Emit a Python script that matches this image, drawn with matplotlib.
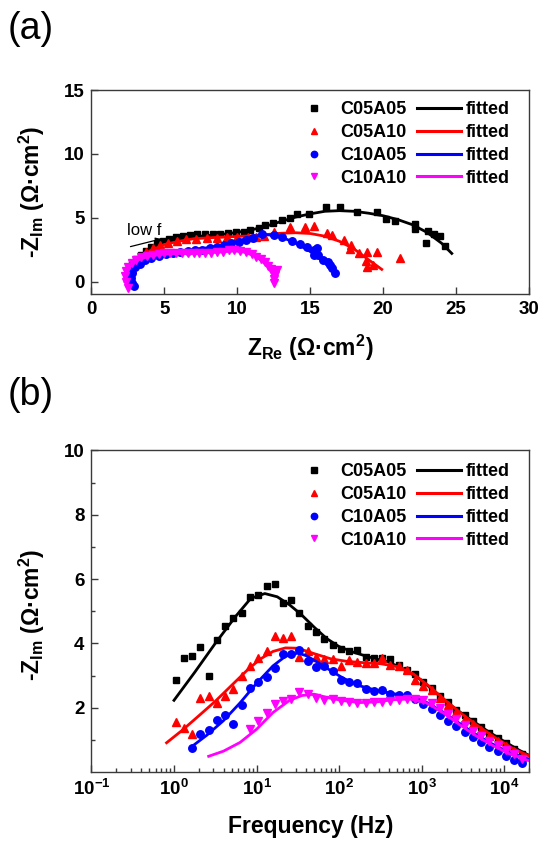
import matplotlib
matplotlib.use("Agg")
import matplotlib.pyplot as plt
from matplotlib.lines import Line2D

plt.rcParams["font.family"] = ["Liberation Sans", "DejaVu Sans"]
plt.rcParams["font.weight"] = "bold"
plt.rcParams["mathtext.fontset"] = "custom"
plt.rcParams["mathtext.rm"] = "Liberation Sans:bold"
plt.rcParams["mathtext.bf"] = "Liberation Sans:bold"
plt.rcParams["mathtext.it"] = "Liberation Sans:bold:italic"

names = ["C05A05", "C05A10", "C10A05", "C10A10"]
colors = ["#000000", "#ff0000", "#0000ff", "#ff00ff"]
markers = ["s", "^", "o", "v"]
msizes = [4.8, 5.8, 5.4, 5.8]

# ---------------- (a) Nyquist data ----------------
zre_c05a05 = [2.45, 2.5, 2.58, 2.8, 3.08, 3.38, 3.73, 4.08, 4.47, 4.88, 5.35, 5.8, 6.27, 6.73,
              7.24, 7.77, 8.3, 8.8, 9.39, 9.9, 10.43, 10.9, 11.47, 11.93, 12.46, 13.08, 13.6,
              14.1, 14.9, 16.1, 17.05, 18.2, 19.55, 20.16, 20.84, 22.16, 22.16, 23.07, 22.95,
              23.5, 23.9, 24.25]
zim_c05a05 = [0.35, 0.75, 1.12, 1.43, 1.74, 2.08, 2.42, 2.73, 2.99, 3.2, 3.33, 3.45, 3.56, 3.64,
              3.69, 3.71, 3.71, 3.71, 3.77, 3.84, 3.9, 4.03, 4.23, 4.42, 4.6, 4.8, 5.0,
              5.32, 5.25, 5.84, 5.8, 5.45, 5.42, 4.92, 4.77, 4.5, 4.12, 3.94, 3.03,
              3.72, 3.57, 2.79]

zre_c05a10 = [2.55, 2.75, 3.0, 3.35, 3.75, 4.2, 4.7, 5.25, 5.85, 6.5, 7.2, 7.9, 8.6, 9.3, 10.0,
              10.7, 11.3, 11.8, 12.5, 13.64, 14.66, 15.23, 16.14, 16.48, 17.32, 17.77, 17.73,
              18.36, 18.86, 19.6, 18.8, 18.86, 19.3, 21.14]
zim_c05a10 = [0.5, 1.0, 1.45, 1.9, 2.3, 2.6, 2.85, 3.05, 3.2, 3.3, 3.35, 3.4, 3.42, 3.45, 3.48,
              3.5, 3.52, 3.58, 3.9, 4.24, 4.24, 4.33, 3.81, 3.68, 3.24, 2.85, 2.51,
              2.25, 2.33, 2.33, 1.64, 1.17, 1.3, 1.83]

zre_c10a05 = [2.9, 2.75, 2.7, 2.8, 3.0, 3.3, 3.7, 4.1, 4.6, 5.1, 5.6, 6.1, 6.6, 7.1, 7.6, 8.1,
              8.6, 9.1, 9.6, 10.1, 10.6, 11.1, 11.7, 12.5, 13.07, 13.75, 14.3, 14.77, 15.23,
              15.45, 15.23, 15.5, 15.9, 16.25, 16.36, 16.48, 16.7]
zim_c10a05 = [-0.35, -0.1, 0.3, 0.7, 1.1, 1.4, 1.65, 1.85, 2.0, 2.15, 2.25, 2.35, 2.4, 2.45, 2.5,
              2.6, 2.7, 2.85, 3.0, 3.1, 3.25, 3.4, 3.75, 3.64, 3.5, 3.19, 2.9, 2.73, 2.46,
              2.6, 2.07, 2.07, 1.67, 1.54, 1.28, 1.02, 0.7]

zre_c10a10 = [2.5, 2.35, 2.3, 2.35, 2.5, 2.75, 3.05, 3.4, 3.8, 4.2, 4.6, 5.0, 5.4, 5.8, 6.2, 6.6,
              7.0, 7.4, 7.8, 8.2, 8.6, 9.0, 9.4, 9.8, 10.2, 10.6, 11.0, 11.3, 11.6, 11.9, 12.1,
              12.3, 12.5, 12.7, 12.6, 12.5, 12.5]
zim_c10a10 = [-0.5, 0.0, 0.4, 0.8, 1.15, 1.45, 1.7, 1.9, 2.0, 2.1, 2.15, 2.2, 2.2, 2.2, 2.2, 2.2,
              2.2, 2.2, 2.2, 2.25, 2.3, 2.35, 2.45, 2.5, 2.4, 2.3, 2.15, 1.95, 1.75, 1.5, 1.25,
              1.0, 0.75, 0.9, 0.5, 0.2, -0.1]

fit_zre_c05a05 = [2.4, 2.5, 2.7, 3.0, 3.5, 4.0, 5.0, 6.0, 7.0, 8.0, 9.0, 10.0, 11.0, 12.0, 13.0,
                  14.0, 15.0, 16.0, 17.0, 18.0, 19.0, 20.0, 21.0, 22.0, 23.0, 24.0, 24.7]
fit_zim_c05a05 = [0.0, 0.5, 1.0, 1.5, 2.1, 2.5, 3.0, 3.3, 3.5, 3.6, 3.7, 3.85, 4.05, 4.35, 4.7,
                  5.05, 5.3, 5.5, 5.55, 5.5, 5.35, 5.15, 4.85, 4.45, 3.85, 3.0, 2.2]

fit_zre_c05a10 = [2.4, 2.5, 2.8, 3.3, 4.0, 5.0, 6.0, 7.0, 8.0, 9.0, 10.0, 11.0, 12.0, 13.0, 14.0,
                  15.0, 16.0, 17.0, 18.0, 19.0, 19.9]
fit_zim_c05a10 = [0.0, 0.5, 1.2, 1.8, 2.4, 2.9, 3.15, 3.35, 3.42, 3.48, 3.53, 3.58, 3.68, 3.78,
                  3.82, 3.76, 3.55, 3.15, 2.55, 1.7, 0.95]

fit_zre_c10a05 = [2.55, 2.6, 2.8, 3.2, 4.0, 5.0, 6.0, 7.0, 8.0, 9.0, 10.0, 11.0, 11.8, 12.5, 13.2,
                  14.0, 14.8, 15.5, 16.1, 16.7]
fit_zim_c10a05 = [0.0, 0.5, 1.0, 1.45, 1.85, 2.15, 2.35, 2.5, 2.65, 2.85, 3.15, 3.5, 3.68, 3.62,
                  3.4, 3.0, 2.5, 1.95, 1.4, 0.75]

fit_zre_c10a10 = [2.3, 2.35, 2.5, 2.8, 3.3, 4.0, 5.0, 6.0, 7.0, 8.0, 9.0, 9.8, 10.5, 11.2, 11.7,
                  12.1, 12.4, 12.55]
fit_zim_c10a10 = [0.0, 0.5, 1.0, 1.4, 1.75, 2.0, 2.15, 2.2, 2.2, 2.25, 2.32, 2.4, 2.3, 2.0, 1.6,
                  1.15, 0.6, 0.1]

# ---------------- (b) Bode (-Zim vs frequency) data ----------------
freq = [1.05, 1.32, 1.66, 2.09, 2.63, 3.31, 4.17, 5.25, 6.61, 8.32, 10.5, 13.2, 16.6, 20.9,
        26.3, 33.1, 41.7, 52.5, 66.1, 83.2, 105, 132, 166, 209, 263, 331, 417, 525, 661, 832,
        1050, 1320, 1660, 2090, 2630, 3310, 4170, 5250, 6610, 8320, 10500, 13200, 16600]

zim_f_c05a05 = [2.85, 3.55, 3.6, 3.9, 3.0, 4.1, 4.55, 4.8, 4.95, 5.45, 5.5, 5.8, 5.85, 5.27,
                5.35, 4.95, 4.55, 4.35, 4.15, 3.95, 3.83, 3.75, 3.8, 3.58, 3.56, 3.56, 3.5,
                3.32, 3.16, 3.04, 2.8, 2.62, 2.37, 2.17, 1.94, 1.76, 1.59, 1.4, 1.22, 1.06,
                0.9, 0.73, 0.55]
zim_f_c05a10 = [1.55, 1.38, 1.19, 2.3, 2.35, 2.15, 2.35, 2.58, 3.0, 3.3, 3.54, 3.76, 4.24, 4.16,
                4.22, 3.58, 3.76, 3.58, 3.52, 3.52, 3.3, 3.47, 3.43, 3.39, 3.39, 3.56, 3.33,
                3.3, 3.16, 2.87, 2.69, 2.56, 2.31, 2.1, 1.87, 1.66, 1.48, 1.3, 1.12, 0.96,
                0.8, 0.64, 0.47]
zim_f_c10a05 = [0.76, 1.19, 1.32, 1.63, 1.78, 1.5, 2.07, 2.62, 2.8, 2.95, 3.24, 3.66, 3.66,
                3.78, 3.45, 3.26, 3.3, 3.13, 2.87, 2.8, 2.77, 2.58, 2.51, 2.54, 2.44, 2.4,
                2.38, 2.28, 2.12, 1.97, 1.76, 1.59, 1.42, 1.24, 1.09, 0.93, 0.78, 0.64, 0.51,
                0.38, 0.28]
zim_f_c10a10 = [1.34, 1.6, 1.83, 2.12, 2.2, 2.27, 2.48, 2.43, 2.3, 2.24, 2.26, 2.22, 2.18,
                2.16, 2.15, 2.17, 2.18, 2.22, 2.25, 2.27, 2.28, 2.24, 2.14, 2.0, 1.82, 1.64,
                1.46, 1.29, 1.12, 0.97, 0.83, 0.69, 0.55, 0.42]

fit_f_c05a05 = [1.0, 1.78, 3.16, 5.62, 8.51, 12.6, 17.8, 25.1, 34.7, 50.1, 70.8, 100, 151, 251,
                398, 631, 1000, 1585, 2512, 3981, 6310, 10000, 15136, 19950]
fit_zim_f_c05a05 = [2.23, 3.1, 4.0, 4.85, 5.4, 5.55, 5.45, 5.2, 4.9, 4.5, 4.15, 3.9, 3.72, 3.55,
                    3.42, 3.18, 2.85, 2.4, 1.98, 1.62, 1.27, 0.95, 0.68, 0.52]

fit_f_c05a10 = [0.813, 1.26, 2.0, 3.16, 5.01, 7.94, 11.2, 15.8, 22.4, 31.6, 50.1, 79.4, 126,
                200, 316, 501, 794, 1259, 1995, 3162, 5012, 7943, 12589, 19950]
fit_zim_f_c05a10 = [0.91, 1.3, 1.75, 2.2, 2.7, 3.2, 3.52, 3.75, 3.86, 3.85, 3.68, 3.52, 3.44,
                    3.4, 3.37, 3.28, 3.05, 2.65, 2.2, 1.78, 1.4, 1.05, 0.74, 0.5]

fit_f_c10a05 = [1.62, 2.51, 3.98, 6.31, 10, 15.8, 22.4, 31.6, 39.8, 56.2, 79.4, 112, 178, 282,
                447, 708, 1122, 1778, 2818, 4467, 7079, 11220, 19950]
fit_zim_f_c10a05 = [0.78, 1.15, 1.6, 2.15, 2.76, 3.3, 3.6, 3.7, 3.62, 3.4, 3.15, 2.92, 2.68,
                    2.54, 2.44, 2.35, 2.18, 1.88, 1.53, 1.18, 0.88, 0.62, 0.4]

fit_f_c10a10 = [2.63, 3.98, 6.31, 10, 15.8, 25.1, 35.5, 50.1, 70.8, 112, 178, 282, 447, 708,
                1122, 1778, 2818, 4467, 7079, 11220, 19950]
fit_zim_f_c10a10 = [0.49, 0.65, 0.92, 1.33, 1.85, 2.23, 2.38, 2.42, 2.32, 2.22, 2.16, 2.18, 2.25,
                    2.27, 2.16, 1.86, 1.49, 1.14, 0.84, 0.58, 0.35]

nyq_pts = [(zre_c05a05, zim_c05a05), (zre_c05a10, zim_c05a10),
           (zre_c10a05, zim_c10a05), (zre_c10a10, zim_c10a10)]
nyq_fit = [(fit_zre_c05a05, fit_zim_c05a05), (fit_zre_c05a10, fit_zim_c05a10),
           (fit_zre_c10a05, fit_zim_c10a05), (fit_zre_c10a10, fit_zim_c10a10)]
bode_pts = [zim_f_c05a05, zim_f_c05a10, zim_f_c10a05, zim_f_c10a10]
bode_fit = [(fit_f_c05a05, fit_zim_f_c05a05), (fit_f_c05a10, fit_zim_f_c05a10),
            (fit_f_c10a05, fit_zim_f_c10a05), (fit_f_c10a10, fit_zim_f_c10a10)]

FRAME = "#3a3a3a"


def style(ax):
    for s in ax.spines.values():
        s.set_linewidth(1.0)
        s.set_color(FRAME)
    ax.tick_params(which="both", direction="in", top=False, right=False,
                   color=FRAME, width=1.0, labelsize=13.5, pad=5)
    ax.tick_params(which="major", length=5)
    ax.tick_params(which="minor", length=3)


def add_legend(ax, y_anchor):
    hs = [Line2D([], [], ls="none", marker=m, color=c, mec=c, ms=ms * 0.85)
          for m, c, ms in zip(markers, colors, msizes)]
    hl = [Line2D([], [], color=c, lw=2.2) for c in colors]
    ax.legend(hs + hl, names + ["fitted"] * 4, ncol=2, loc="upper right",
              bbox_to_anchor=(0.955, y_anchor), frameon=False, fontsize=13,
              handlelength=2.44, handletextpad=0.24, columnspacing=0.6,
              labelspacing=0.32, borderpad=0, borderaxespad=0)


fig = plt.figure(figsize=(5.41, 8.42), dpi=100)
axA = fig.add_axes([0.169, 0.6505, 0.809, 0.2426])
axB = fig.add_axes([0.169, 0.0831, 0.809, 0.3819])

# (a) Nyquist plot
for (x, y), (fx, fy), c, m, ms in zip(nyq_pts, nyq_fit, colors, markers, msizes):
    axA.plot(x, y, ls="none", marker=m, color=c, mec=c, ms=ms, zorder=3)
    axA.plot(fx, fy, color=c, lw=2.0, zorder=3)
axA.set_xlim(0, 30)
axA.set_ylim(-1, 15)
axA.set_xticks([0, 5, 10, 15, 20, 25, 30])
axA.set_yticks([0, 5, 10, 15])
style(axA)
axA.set_xlabel(r"Z$_{\mathrm{Re}}$ (Ω·cm$^{\mathrm{2}}$)", fontsize=16.5, fontweight="bold")
axA.set_ylabel(r"-Z$_{\mathrm{Im}}$ (Ω·cm$^{\mathrm{2}}$)", fontsize=16.5, fontweight="bold")
axA.xaxis.set_label_coords(0.5, -0.19)
axA.yaxis.set_label_coords(-0.101, 0.5)
add_legend(axA, 0.944)
axA.text(2.44, 3.65, "low f", fontsize=12, fontweight="normal", ha="left", va="baseline")
axA.annotate("", xy=(4.97, 3.39), xytext=(2.49, 2.68),
             arrowprops=dict(arrowstyle="-|>", lw=0.9, color="black", mutation_scale=8))

# (b) -Zim versus frequency
for vals, (ff, fv), c, m, ms in zip(bode_pts, bode_fit, colors, markers, msizes):
    fx = freq[len(freq) - len(vals):]
    axB.plot(fx, vals, ls="none", marker=m, color=c, mec=c, ms=ms, zorder=3)
    axB.plot(ff, fv, color=c, lw=2.0, zorder=3)
axB.set_xscale("log")
axB.set_xlim(0.1, 2e4)
axB.set_ylim(0, 10)
axB.set_xticks([0.1, 1, 10, 100, 1000, 10000])
axB.set_xticklabels([r"$10^{-1}$", r"$10^{0}$", r"$10^{1}$", r"$10^{2}$",
                     r"$10^{3}$", r"$10^{4}$"])
axB.set_yticks([2, 4, 6, 8, 10])
axB.set_yticks([1, 3, 5, 7, 9], minor=True)
style(axB)
axB.set_xlabel("Frequency (Hz)", fontsize=16.5, fontweight="bold")
axB.set_ylabel(r"-Z$_{\mathrm{Im}}$ (Ω·cm$^{\mathrm{2}}$)", fontsize=16.5, fontweight="bold")
axB.xaxis.set_label_coords(0.5, -0.135)
axB.yaxis.set_label_coords(-0.101, 0.49)
add_legend(axB, 0.960)

fig.text(8 / 541, 1 - 11 / 842, "(a)", fontsize=27, fontweight="normal", ha="left", va="top")
fig.text(8 / 541, 1 - 377 / 842, "(b)", fontsize=27, fontweight="normal", ha="left", va="top")

fig.savefig("out.png", dpi=100)
